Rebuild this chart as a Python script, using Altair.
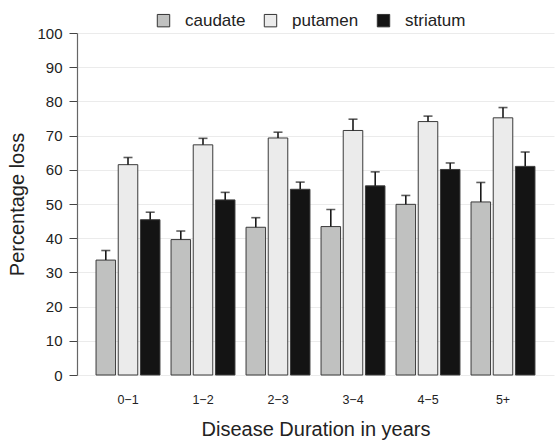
import altair as alt
import pandas as pd

groups = ["0\u22121", "1\u22122", "2\u22123", "3\u22124", "4\u22125", "5+"]
regions = ["caudate", "putamen", "striatum"]
caudate = [33.6, 39.6, 43.2, 43.4, 49.9, 50.6]
caudate_se = [2.8, 2.5, 2.8, 5.0, 2.6, 5.7]
putamen = [61.5, 67.3, 69.3, 71.5, 74.1, 75.2]
putamen_se = [2.1, 1.9, 1.7, 3.3, 1.6, 3.0]
striatum = [45.4, 51.2, 54.3, 55.3, 60.1, 61.0]
striatum_se = [2.2, 2.2, 2.1, 4.1, 1.9, 4.2]
y_ticks = [0, 10, 20, 30, 40, 50, 60, 70, 80, 90, 100]
colors = ["#c0c1c0", "#ebebeb", "#141414"]

rows = []
for reg, vals, ses in [("caudate", caudate, caudate_se),
                       ("putamen", putamen, putamen_se),
                       ("striatum", striatum, striatum_se)]:
    for g, v, s in zip(groups, vals, ses):
        rows.append({"group": g, "region": reg, "value": v, "top": v + s})
df = pd.DataFrame(rows)

FONT = "Liberation Sans"

x_scale = alt.Scale(paddingInner=0.112, paddingOuter=0.236)
x_axis = alt.Axis(title="Disease Duration in years", domain=False, ticks=False,
                  labelAngle=0, labelPadding=18, labelFontSize=12.5,
                  labelFont=FONT, labelColor="#222",
                  titleFontSize=20, titleFont=FONT, titleFontWeight="normal",
                  titleColor="#222", titlePadding=14, grid=False)
y_axis = alt.Axis(title="Percentage loss", values=y_ticks, labelOverlap=False,
                  grid=True, gridColor="#ebebeb", gridWidth=1,
                  domainColor="#666", domainWidth=1.2,
                  tickColor="#444", tickSize=8, tickWidth=1,
                  labelFontSize=15, labelFont=FONT, labelColor="#222",
                  labelPadding=7,
                  titleFontSize=20, titleFont=FONT, titleFontWeight="normal",
                  titleColor="#222", titlePadding=9)
xoff = alt.XOffset("region:N", sort=regions,
                   scale=alt.Scale(paddingInner=0.12, paddingOuter=0.06))
y_scale = alt.Scale(domain=[0, 100], nice=False)

bars = alt.Chart(df).mark_bar(stroke="#3a3a3a", strokeWidth=1).encode(
    x=alt.X("group:N", sort=groups, scale=x_scale, axis=x_axis),
    xOffset=xoff,
    y=alt.Y("value:Q", scale=y_scale, axis=y_axis),
    color=alt.Color("region:N", sort=regions,
                    scale=alt.Scale(domain=regions, range=colors),
                    legend=alt.Legend(title=None, orient="none", direction="horizontal",
                                      legendX=78, legendY=-21,
                                      symbolType="square", symbolSize=154,
                                      symbolStrokeColor="#333", symbolStrokeWidth=1,
                                      symbolOpacity=1,
                                      labelFontSize=17, labelFont=FONT, labelColor="#222",
                                      labelOffset=13, columnPadding=16)),
)

whisker = alt.Chart(df).mark_rule(color="#1a1a1a", strokeWidth=1.6).encode(
    x=alt.X("group:N", sort=groups, scale=x_scale, axis=x_axis),
    xOffset=xoff,
    y=alt.Y("value:Q", scale=y_scale, axis=y_axis),
    y2="top:Q",
)
caps = alt.Chart(df).mark_tick(color="#1a1a1a", thickness=1.6, size=9).encode(
    x=alt.X("group:N", sort=groups, scale=x_scale, axis=x_axis),
    xOffset=xoff,
    y=alt.Y("top:Q", scale=y_scale, axis=y_axis),
)

chart = alt.layer(bars, whisker, caps).properties(
    width=477, height=342,
    autosize=alt.AutoSizeParams(type="none"),
    padding={"left": 77, "top": 33, "right": 1, "bottom": 67},
).configure_view(stroke=None)

chart.save("out.html", embed_options={"renderer": "svg", "actions": False})
